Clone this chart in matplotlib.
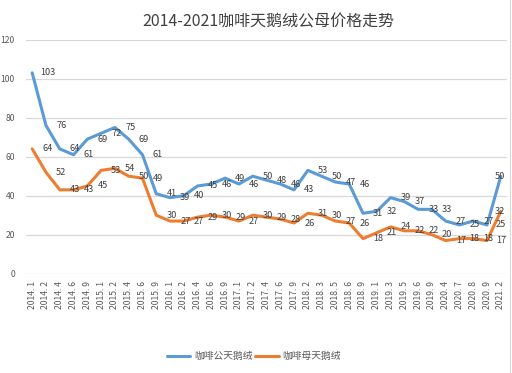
import matplotlib
matplotlib.use("Agg")
import matplotlib.pyplot as plt

plt.rcParams['font.family'] = ['Noto Sans CJK SC', 'DejaVu Sans']

categories = ["2014. 1", "2014. 2", "2014. 4", "2014. 6", "2014. 9",
              "2015. 1", "2015. 2", "2015. 4", "2015. 6", "2015. 9",
              "2016. 1", "2016. 2", "2016. 4", "2016. 6", "2016. 9",
              "2017. 1", "2017. 2", "2017. 4", "2017. 6", "2017. 9",
              "2018. 2", "2018. 3", "2018. 5", "2018. 6", "2018. 9",
              "2019. 1", "2019. 3", "2019. 5", "2019. 6", "2019. 9",
              "2020. 4", "2020. 7", "2020. 8", "2020. 9", "2021. 2"]
male = [103, 76, 64, 61, 69, 72, 75, 69, 61, 41,
        39, 40, 45, 46, 49, 46, 50, 48, 46, 43,
        53, 50, 47, 46, 31, 32, 39, 37, 33, 33,
        27, 25, 27, 25, 50]
female = [64, 52, 43, 43, 45, 53, 54, 50, 49, 30,
          27, 27, 29, 30, 29, 27, 30, 29, 28, 26,
          31, 30, 27, 26, 18, 21, 24, 22, 22, 20,
          17, 18, 18, 17, 32]
series_names = ["咖啡公天鹅绒", "咖啡母天鹅绒"]
title = "2014-2021咖啡天鹅绒公母价格走势"
yticks = [0, 20, 40, 60, 80, 100, 120]

BLUE = "#5B9BD5"
ORANGE = "#ED7D31"
GREY = "#595959"

fig = plt.figure(figsize=(5.12, 3.73), dpi=100)
ax = fig.add_axes([26/512, 1-273.7/373, (507-26)/512, (273.7-39.7)/373])

x = list(range(len(categories)))
l1, = ax.plot(x, male, color=BLUE, lw=2.2, solid_joinstyle='round', solid_capstyle='round', label=series_names[0], zorder=3)
l2, = ax.plot(x, female, color=ORANGE, lw=2.2, solid_joinstyle='round', solid_capstyle='round', label=series_names[1], zorder=3)

ax.set_xlim(-0.45, len(categories) - 0.55)
ax.set_ylim(0, 120)
ax.set_yticks(yticks)
ax.set_yticklabels([str(v) for v in yticks])
ax.set_xticks(x)
ax.set_xticklabels(categories, rotation=90)
ax.tick_params(axis='both', length=0, colors=GREY, labelsize=6.2)
ax.tick_params(axis='y', pad=8)
ax.tick_params(axis='x', pad=5)
ax.yaxis.grid(True, color="#D9D9D9", lw=0.9)
ax.set_axisbelow(True)
for s in ax.spines.values():
    s.set_visible(False)

n = len(categories)
for series in (male, female):
    for i, v in enumerate(series):
        if i < n - 2:
            off = 11
        elif i == n - 2:
            off = 10
        else:
            off = -1
        ax.annotate(str(v), (i, v), xytext=(off, 0), textcoords='offset points',
                    ha='center', va='center', fontsize=6.6, color="#404040", zorder=4)

fig.text(268/512, 1-22/373, title, ha='center', va='center', fontsize=11.5, color="#404040")

fig.legend(handles=[l1, l2], loc='center', bbox_to_anchor=(254/512, 1-356/373), ncol=2,
           frameon=False, fontsize=7, handlelength=2.4, handletextpad=0.4, columnspacing=0.3,
           labelcolor=GREY)

fig.add_artist(plt.Line2D([509.5/512, 509.5/512], [0, 1], color="#D9D9D9", lw=0.8, transform=fig.transFigure))

fig.savefig("out.png", dpi=100)
